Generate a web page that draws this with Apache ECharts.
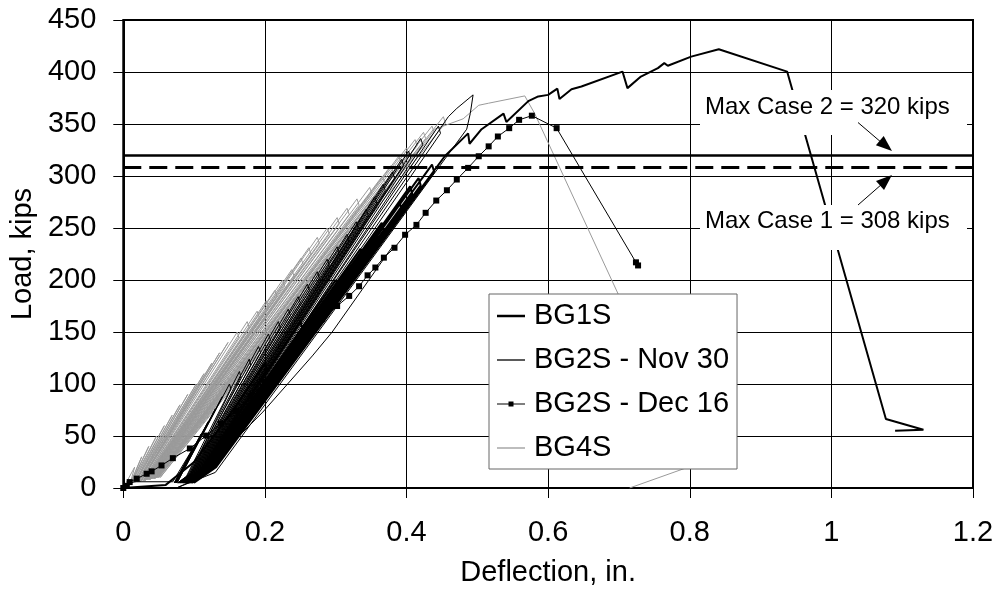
<!DOCTYPE html>
<html><head><meta charset="utf-8">
<script src="https://cdn.jsdelivr.net/npm/echarts@6/dist/echarts.min.js"></script>
<style>html,body{margin:0;padding:0;background:#fff}#c{width:998px;height:592px}</style>
</head><body><div id="c"></div>
<script>
// Axis ranges / ticks
const xMin = 0, xMax = 1.2, xStep = 0.2;
const yMin = 0, yMax = 450, yStep = 50;
const seriesNames = ['BG1S', 'BG2S - Nov 30', 'BG2S - Dec 16', 'BG4S'];
const caseLevels = [320, 308];
const caseLabels = ['Max Case 2 = 320 kips', 'Max Case 1 = 308 kips'];

// BG1S (deflection in., load kips)
const bg1s = [
[0,0],[0.06,3],[0.1,25],[0.15,70],[0.2,120],[0.203,114],[0.115,20],[0.085,5],
[0.11,18],[0.25,160],[0.253,153],[0.117,20],[0.087,5],
[0.112,18],[0.3,200],[0.303,193],[0.119,20],[0.089,5],
[0.114,18],[0.335,230],[0.338,223],[0.121,20],[0.091,5],
[0.116,18],[0.365,255],[0.368,248],[0.123,20],[0.093,5],
[0.118,18],[0.39,275],[0.393,268],[0.125,20],[0.095,5],
[0.12,18],[0.405,290],[0.408,283],[0.127,20],[0.097,5],
[0.122,18],[0.417,298],[0.42,291],[0.129,20],[0.099,5],
[0.124,18],[0.436,311],[0.439,304],[0.131,20],[0.1,5],
[0.126,18],[0.454,319],[0.487,341],[0.489,331],[0.506,345],[0.537,360],[0.541,352],[0.572,372],
[0.586,376.5],[0.6,378],[0.613,384],[0.616,374],[0.633,383.5],[0.647,386],[0.705,400.4],
[0.712,384.5],[0.731,395.6],[0.755,403.7],[0.764,408.5],[0.769,406],[0.802,414.8],
[0.841,421.9],[0.9375,400.4],[1.077,66.4],[1.13,56],[1.09,55]
];

// BG2S - Nov 30
const nov30 = [
[0,0],[0.015,6],[0.07,6],
[0.1,40],[0.072,5],
[0.11,52],[0.073,5],
[0.12,64],[0.074,5],
[0.13,76],[0.075,5],
[0.14,88],[0.076,5],
[0.15,100],[0.152,95],[0.095,14],[0.077,5],[0.089,11],
[0.164,112],[0.166,107],[0.096,14],[0.078,5],[0.09,11],
[0.178,124],[0.18,118],[0.097,14],[0.079,5],[0.091,11],
[0.191,136],[0.194,130],[0.098,14],[0.08,5],[0.092,11],
[0.205,148],[0.208,142],[0.099,14],[0.081,5],[0.093,11],
[0.219,160],[0.222,154],[0.1,14],[0.082,5],[0.094,11],
[0.233,172],[0.236,166],[0.101,14],[0.083,5],[0.095,11],
[0.247,184],[0.25,178],[0.102,14],[0.084,5],[0.096,11],
[0.26,196],[0.263,190],[0.103,14],[0.085,5],[0.097,11],
[0.274,208],[0.277,202],[0.104,14],[0.086,5],[0.098,11],
[0.288,220],[0.291,214],[0.105,14],[0.087,5],[0.099,11],
[0.302,232],[0.305,226],[0.106,14],[0.088,5],[0.1,11],
[0.316,244],[0.319,238],[0.107,14],[0.089,5],[0.101,11],
[0.329,256],[0.332,250],[0.108,14],[0.09,5],[0.102,11],
[0.343,268],[0.346,262],[0.109,14],[0.091,5],[0.103,11],
[0.355,280],[0.358,274],[0.11,14],[0.092,5],[0.104,11],
[0.367,292],[0.37,286],[0.111,14],[0.093,5],[0.105,11],
[0.38,304],[0.383,298],[0.112,14],[0.094,5],[0.106,11],
[0.393,316],[0.396,310],[0.113,14],[0.095,5],[0.107,11],
[0.403,324],[0.406,317],[0.114,14],[0.096,5],[0.108,11],
[0.42,336],[0.423,330],[0.115,14],[0.097,5],[0.109,11],
[0.445,348],[0.448,341],[0.116,14],[0.098,5],[0.11,11],
[0.459,357],[0.471,365],[0.494,378],[0.49,360],[0.485,345],[0.13,15],[0.075,0],
[0.098,7],[0.127,25],[0.197,73],[0.267,127],[0.295,150],[0.3375,191],[0.38,232]
];

// BG2S - Dec 16
const dec16 = [
[0,0],[0.005,2],[0.009,5.7],[0.019,9],[0.033,13.7],[0.04,16],[0.054,21.7],[0.07,28.7],
[0.094,38],[0.117,50.4],[0.138,62],[0.159,74],[0.18,88],[0.2,102],[0.22,116],[0.24,130],
[0.255,143],[0.267,152.7],[0.281,162.3],[0.302,175],[0.319,184.7],[0.333,194],[0.345,204.5],
[0.356,212],[0.368,221.5],[0.383,231],[0.398,243.5],[0.414,253],[0.427,264.6],[0.442,276.4],
[0.457,286.3],[0.471,296.6],[0.487,307.8],[0.502,319],[0.516,328.5],[0.529,338],[0.545,346],
[0.559,354],[0.577,358],[0.612,346],[0.724,217],[0.727,214]
];

// BG4S
const bg4s = [
[0,0],[0.016,20],[0.01,5],
[0.026,30],[0.011,5],
[0.036,40],[0.012,5],
[0.047,50],[0.014,5],
[0.058,60],[0.016,5],
[0.069,70],[0.018,6],
[0.08,80],[0.02,6],
[0.091,90],[0.021,6],
[0.103,100],[0.022,6],
[0.114,110],[0.024,6],
[0.125,120],[0.025,7],
[0.136,130],[0.026,7],
[0.148,140],[0.028,7],
[0.161,150],[0.163,145],[0.029,7],
[0.175,160],[0.178,154],[0.03,7],
[0.189,170],[0.192,164],[0.031,7],
[0.202,180],[0.205,174],[0.032,8],
[0.214,190],[0.217,184],[0.033,8],
[0.225,200],[0.228,194],[0.034,8],
[0.238,210],[0.241,204],[0.035,8],
[0.251,221],[0.254,215],[0.036,8],
[0.262,231],[0.265,225],[0.037,8],
[0.274,241],[0.277,235],[0.038,8],
[0.288,250],[0.291,244],[0.039,9],
[0.302,260],[0.305,254],[0.04,9],
[0.316,269],[0.319,263],[0.041,9],
[0.33,278],[0.333,272],[0.042,9],
[0.348,289],[0.351,283],[0.043,9],
[0.366,300],[0.369,294],[0.044,9],
[0.378,310],[0.381,304],[0.045,9],
[0.389,319],[0.392,313],[0.046,10],
[0.4,327],[0.403,321],[0.047,10],
[0.412,335],[0.415,329],[0.048,10],
[0.424,342],[0.427,336],[0.049,10],
[0.436,348],[0.439,342],[0.05,10],
[0.452,357],[0.455,351],[0.052,10],
[0.44,345],[0.48,355],[0.502,368],[0.516,370],[0.567,377],[0.581,360],[0.81,23],[0.715,0]
];

const FONT = '"Liberation Sans", Arial, Helvetica, sans-serif';
const chart = echarts.init(document.getElementById('c'), null, {renderer: 'canvas'});

function lineSeries(name, data, color, width, extra) {
  return Object.assign({
    name: name, type: 'line', data: data,
    symbol: 'none', showSymbol: false,
    lineStyle: {color: color, width: width},
    itemStyle: {color: color},
    animation: false, silent: true
  }, extra || {});
}

const option = {
  animation: false,
  backgroundColor: '#fff',
  grid: {left: 120, right: 25, top: 20, bottom: 103, show: true, borderColor: '#000', borderWidth: 2, containLabel: false},
  xAxis: {
    type: 'value', min: xMin, max: xMax, interval: xStep,
    name: 'Deflection, in.', nameLocation: 'middle', nameGap: 70,
    nameTextStyle: {fontSize: 29, color: '#000', fontFamily: FONT},
    axisLine: {show: true, onZero: false, lineStyle: {color: '#000', width: 2}},
    axisTick: {show: true, inside: false, length: 10, lineStyle: {color: '#000', width: 1}},
    axisLabel: {fontSize: 29, color: '#000', margin: 30, fontFamily: FONT},
    splitLine: {show: true, lineStyle: {color: '#000', width: 1}}
  },
  yAxis: {
    type: 'value', min: yMin, max: yMax, interval: yStep,
    name: 'Load, kips', nameLocation: 'middle', nameGap: 76,
    nameTextStyle: {fontSize: 29, color: '#000', fontFamily: FONT},
    axisLine: {show: true, onZero: false, lineStyle: {color: '#000', width: 2}},
    axisTick: {show: true, inside: false, length: 10, lineStyle: {color: '#000', width: 1}},
    axisLabel: {fontSize: 29, color: '#000', margin: 27, fontFamily: FONT},
    splitLine: {show: true, lineStyle: {color: '#000', width: 1}}
  },
  legend: {
    data: [
      {name: seriesNames[0], icon: 'path://M0,0H28V2.5H0Z'},
      {name: seriesNames[1], icon: 'path://M0,0H28V1.3H0Z'},
      {name: seriesNames[2], icon: 'path://M0,2H11.5V0H16.5V2H28V3.2H16.5V5.2H11.5V3.2H0Z'},
      {name: seriesNames[3], icon: 'path://M0,0H28V1.3H0Z'}
    ],
    orient: 'vertical', left: 489, top: 294,
    itemWidth: 28, itemHeight: 14, itemGap: 14, symbolKeepAspect: true,
    padding: [7, 8, 6, 8],
    borderColor: '#666', borderWidth: 1, backgroundColor: '#fff',
    textStyle: {fontSize: 29, color: '#000', fontFamily: FONT, lineHeight: 30, padding: [0, 0, 0, 4]},
    selectedMode: false, z: 20
  },
  series: [
    lineSeries(seriesNames[3], bg4s, '#9a9a9a', 1),
    lineSeries(seriesNames[1], nov30, '#000', 1),
    lineSeries(seriesNames[0], bg1s, '#000', 2),
    lineSeries(seriesNames[2], dec16, '#000', 1, {symbol: 'rect', showSymbol: true, symbolSize: 6}),
    {
      name: 'cases', type: 'line', data: [], silent: true, animation: false,
      markLine: {
        symbol: 'none', silent: true, animation: false, label: {show: false},
        data: [
          {yAxis: caseLevels[0], lineStyle: {color: '#000', width: 2.5, type: 'solid'}},
          {yAxis: caseLevels[1], lineStyle: {color: '#000', width: 3, type: [18, 8]}}
        ]
      }
    }
  ],
  graphic: [
    {type: 'rect', z: 50, shape: {x: 700, y: 90, width: 267, height: 45}, style: {fill: '#fff'}},
    {type: 'text', z: 51, x: 705, y: 107, style: {text: caseLabels[0], font: '24px ' + FONT, fill: '#000', verticalAlign: 'middle'}},
    {type: 'rect', z: 50, shape: {x: 700, y: 205, width: 267, height: 45}, style: {fill: '#fff'}},
    {type: 'text', z: 51, x: 705, y: 221.5, style: {text: caseLabels[1], font: '24px ' + FONT, fill: '#000', verticalAlign: 'middle'}},
    {type: 'line', z: 51, shape: {x1: 858, y1: 122.5, x2: 882, y2: 143}, style: {stroke: '#000', lineWidth: 1}},
    {type: 'polygon', z: 51, shape: {points: [[892, 151], [875.9, 145.2], [883.7, 136.0]]}, style: {fill: '#000'}},
    {type: 'line', z: 51, shape: {x1: 858, y1: 205, x2: 882, y2: 184}, style: {stroke: '#000', lineWidth: 1}},
    {type: 'polygon', z: 51, shape: {points: [[892, 175], [884, 190.1], [876, 181.1]]}, style: {fill: '#000'}}
  ]
};
chart.setOption(option);
</script>
</body></html>
